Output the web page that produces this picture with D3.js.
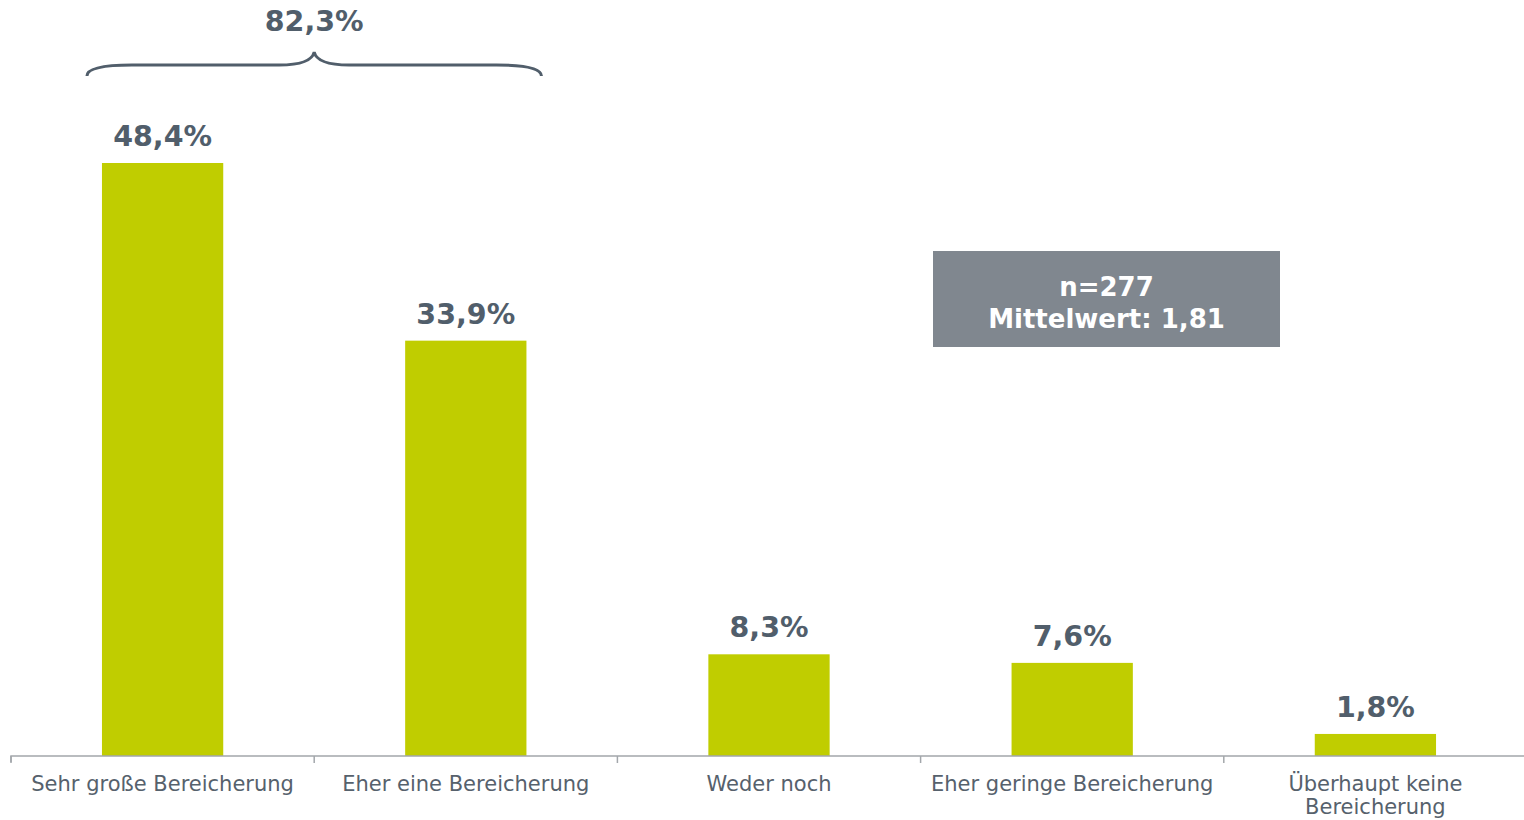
<!DOCTYPE html>
<html>
<head>
<meta charset="utf-8">
<script src="https://cdn.jsdelivr.net/npm/d3@7"></script>
<style>
  body { margin: 0; background: #fff; }
  svg { display: block; }
  .axis-label { font-family: "DejaVu Sans", Verdana, sans-serif; font-size: 21px; fill: #56616c; }
  .value-label { font-family: "DejaVu Sans", Verdana, sans-serif; font-weight: bold; font-size: 28.5px; fill: #515e6b; }
  .info-text { font-family: "DejaVu Sans", Verdana, sans-serif; font-weight: bold; font-size: 26px; fill: #fff; }
</style>
</head>
<body>
<svg id="chart"></svg>
<script>
// Chart data
const categories = ['Sehr große Bereicherung', 'Eher eine Bereicherung', 'Weder noch', 'Eher geringe Bereicherung', 'Überhaupt keine Bereicherung'];
const values = [48.4, 33.9, 8.3, 7.6, 1.8];
const braceTotal = 82.3;
const braceCategories = ['Sehr große Bereicherung', 'Eher eine Bereicherung'];
const infoLines = ['n=277', 'Mittelwert: 1,81'];

const WIDTH = 1524;
const HEIGHT = 820;

const barColor = '#c0cd00';
const textColor = '#515e6b';
const axisColor = '#a3a7ab';

const baseY = 756;

let svg = d3.select('#chart')
    .attr('width', WIDTH)
    .attr('height', HEIGHT);

let xScale = d3.scaleBand()
    .domain(categories)
    .range([11, 11 + 5 * 303.2])
    .padding(0);

// bar is 40% of each band, centred
const barWidth = xScale.bandwidth() * 0.4;
const barX = d => xScale(d) + (xScale.bandwidth() - barWidth) / 2;

let yScale = d3.scaleLinear()
    .domain([0, 48.4])
    .range([baseY, 163]);

const fmt = v => v.toFixed(1).replace('.', ',') + '%';

// bars
svg.selectAll('.bar')
    .data(values)
    .enter().append('rect')
    .attr('class', 'bar')
    .attr('x', (d, i) => barX(categories[i]))
    .attr('y', d => yScale(d))
    .attr('width', barWidth)
    .attr('height', d => baseY - yScale(d))
    .style('fill', barColor);

// value labels
svg.selectAll('.value-label')
    .data(values)
    .enter().append('text')
    .attr('class', 'value-label')
    .attr('x', (d, i) => xScale(categories[i]) + xScale.bandwidth() / 2)
    .attr('y', d => yScale(d) - 17)
    .attr('text-anchor', 'middle')
    .text(d => fmt(d));

// x axis
let xAxis = d3.axisBottom(xScale).tickSize(0).tickFormat('');
let axisG = svg.append('g')
    .attr('transform', `translate(0, ${baseY})`)
    .call(xAxis);
axisG.select('.domain').attr('stroke', axisColor).attr('stroke-width', 1.5)
    .attr('d', `M${xScale.range()[0]},6V0H${xScale.range()[1]}`);

// tick marks at band boundaries
svg.selectAll('.sep')
    .data(categories)
    .enter().append('line')
    .attr('class', 'sep')
    .attr('x1', d => xScale(d)).attr('x2', d => xScale(d))
    .attr('y1', baseY).attr('y2', baseY + 7)
    .attr('stroke', axisColor).attr('stroke-width', 1.5);

// category labels, wrapped if too wide
svg.selectAll('.axis-label')
    .data(categories)
    .enter().append('text')
    .attr('class', 'axis-label')
    .attr('text-anchor', 'middle')
    .attr('y', baseY + 35)
    .each(function (d) {
        let el = d3.select(this);
        let cx = xScale(d) + xScale.bandwidth() / 2;
        let lines = d === 'Überhaupt keine Bereicherung' ? ['Überhaupt keine', 'Bereicherung'] : [d];
        lines.forEach((t, j) => {
            el.append('tspan').attr('x', cx).attr('dy', j === 0 ? 0 : 23).text(t);
        });
    });

// brace over first two bars
const bx0 = barX(braceCategories[0]) - 15;
const bx1 = barX(braceCategories[1]) + barWidth + 15;
const bcx = (bx0 + bx1) / 2;
const bTop = 52, bMid = 65, bEnd = 76;
svg.append('path')
    .attr('d', `M${bx0},${bEnd} Q${bx0},${bMid} ${bx0 + 45},${bMid} L${bcx - 35},${bMid} Q${bcx - 3},${bMid} ${bcx},${bTop} Q${bcx + 3},${bMid} ${bcx + 35},${bMid} L${bx1 - 45},${bMid} Q${bx1},${bMid} ${bx1},${bEnd}`)
    .attr('fill', 'none')
    .attr('stroke', textColor)
    .attr('stroke-width', 3);

svg.append('text')
    .attr('class', 'value-label')
    .attr('x', bcx)
    .attr('y', 31)
    .attr('text-anchor', 'middle')
    .text(fmt(braceTotal));

// info box
let info = svg.append('g').attr('transform', 'translate(933, 251)');
info.append('rect')
    .attr('width', 347)
    .attr('height', 96)
    .attr('fill', '#80878f');
info.selectAll('text')
    .data(infoLines)
    .enter().append('text')
    .attr('class', 'info-text')
    .attr('x', 173.5)
    .attr('y', (d, i) => 45 + i * 32)
    .attr('text-anchor', 'middle')
    .text(d => d);
</script>
</body>
</html>
